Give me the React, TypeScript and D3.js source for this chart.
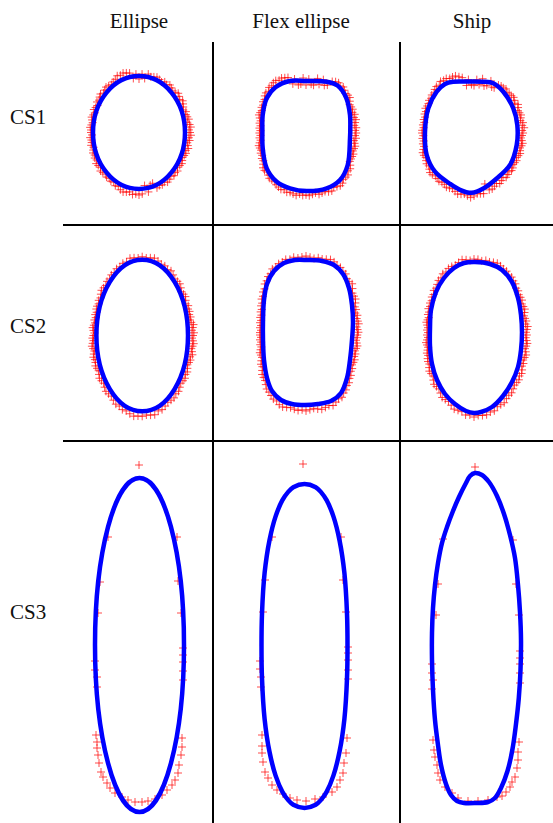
import React from 'react';
import * as d3 from 'd3';

// ---------- labels ----------
const COLUMNS = ['Ellipse', 'Flex ellipse', 'Ship'];
const ROWS = ['CS1', 'CS2', 'CS3'];

// ---------- fitted ellipses: [cx, cy, rx, ry] (section units, y up) ----------
const ELLIPSE_CS1 = [-1, 0.5, 46, 56.5];
const ELLIPSE_CS2 = [2.2, -0.5, 45.8, 75.8];
const ELLIPSE_CS3 = [-0.5, 0, 44.5, 167];

// ---------- fitted flex-ellipse outlines ----------
const FLEX_CS1: [number, number][] = [
  [0, 52], [20.7, 51.3], [31.5, 47.5], [40.2, 35.2], [44, 18], [44.3, 6], [44, -5.3], [41.7, -32],
  [34, -47], [20.7, -55.3], [0.7, -58], [-16, -55.3], [-29.3, -48.7], [-39.3, -35.3], [-43.3, -15],
  [-43.6, 2], [-43.3, 18], [-39.3, 34.7], [-30.5, 45.8], [-16, 52],
];
const FLEX_CS2: [number, number][] = [
  [1, 75], [16, 74], [28, 70], [37, 61], [43, 47], [46, 30], [47, 13], [46, -5], [44, -25],
  [41, -43], [35, -58], [25, -66], [12, -69], [-1, -70], [-14, -69], [-25, -65], [-34, -56],
  [-39, -43], [-42, -25], [-43, -5], [-43, 15], [-42, 35], [-39, 51], [-32, 64], [-22, 72], [-11, 75],
];
const FLEX_CS3: [number, number][] = [
  [-1.5, 161], [9.7, 157.8], [15, 152.9], [20.6, 144.8], [27.4, 128.6], [33.6, 104.3], [38.4, 71.9],
  [41, 31.4], [41.5, -1], [41, -33.4], [38.4, -73.9], [33.6, -106.3], [27.4, -130.6], [20.6, -146.8],
  [15, -154.9], [9.7, -159.8], [-1.5, -163], [-12.7, -159.8], [-18, -154.9], [-23.6, -146.8],
  [-30.4, -130.6], [-36.6, -106.3], [-41.4, -73.9], [-44, -33.4], [-44.5, -1], [-44, 31.4],
  [-41.4, 71.9], [-36.6, 104.3], [-30.4, 128.6], [-23.6, 144.8], [-18, 152.9], [-12.7, 157.8],
];

// ---------- fitted ship outlines ----------
const SHIP_CS1: [number, number][] = [
  [-21, 51.3], [-6, 51.5], [9, 51.3], [19.3, 49.7], [29.3, 41.3], [39.3, 24.7], [43.3, 8],
  [42.7, -12], [36, -32], [22.7, -45.5], [9.3, -55.5], [-2.3, -59.8], [-14, -56.8], [-24, -50.8],
  [-39, -38.7], [-47.3, -22], [-49, 1.3], [-45.7, 24.7], [-37.3, 41.3], [-29, 49],
];
const SHIP_CS2: [number, number][] = [
  [1, 73], [16, 71], [28, 65], [38, 53], [44, 37], [47, 20], [48, 3], [47, -15], [44, -32],
  [38, -47], [29, -61], [18, -72], [7, -77], [0, -78], [-8, -76], [-19, -69], [-29, -59],
  [-37, -45], [-42, -29], [-44, -11], [-44, 7], [-43, 25], [-38, 43], [-30, 57], [-20, 67], [-10, 72],
];
const SHIP_CS3: [number, number][] = [
  [1, 172], [8, 170], [15, 163], [23, 149], [30, 131], [36, 110], [41, 87], [44, 60], [46, 33],
  [47, 5], [46.5, -25], [44.8, -53], [42, -79], [38.5, -104], [33.5, -126], [27, -143], [21, -153],
  [14, -157], [2, -158], [-10, -158], [-17, -156], [-23, -150], [-28, -139], [-33, -120],
  [-36, -100], [-39, -75], [-41, -45], [-42, -15], [-42, 12], [-41, 37], [-39, 60], [-36, 82],
  [-32, 102], [-27, 118], [-21, 134], [-15, 148], [-8, 162], [-4, 169],
];

// ---------- measured points, CS1 & CS2 (polar: angle deg, deviation from fit) ----------
const DENSE_ANGLES = [
  0, 3, 6, 9, 12, 15, 18, 21, 24, 27, 30, 33, 36, 39, 42, 45, 48, 51, 54, 57,
  60, 63, 66, 69, 72, 75, 78, 81, 84, 87, 90, 93, 96, 99, 102, 105, 108, 111, 114, 117,
  120, 123, 126, 129, 132, 135, 138, 141, 144, 147, 150, 153, 156, 159, 162, 165, 168, 171, 174, 177,
  180, 183, 186, 189, 192, 195, 198, 201, 204, 207, 210, 213, 216, 219, 222, 225, 228, 231, 234, 237,
  240, 243, 246, 249, 252, 255, 258, 261, 264, 267, 270, 273, 276, 279, 282, 285, 288, 291, 294, 297,
  300, 303, 306, 309, 312, 315, 318, 321, 324, 327, 330, 333, 336, 339, 342, 345, 348, 351, 354, 357,
];
const DEV_ELLIPSE_CS1 = [
  5, 4, 6, 5, 3, 5, 4, 3, 4, 2, 3, 4, 5, 3, 4, 5, 3, 2, 3, 4,
  2, 3, 1, 2, 3, 2, 1, 3, -2, 2, -3, 2, -2, 4, 5, 6, 5, 6, 4, 3,
  2, 3, 4, 3, 2, 4, 3, 2, 3, 1, 2, 3, 1, 2, 3, 2, 1, 2, 3, 2,
  2, 1, 3, 2, 2, 3, 1, 2, 3, 2, 3, 2, 4, 3, 2, 4, 3, 2, 3, 2,
  3, 2, 4, 3, 5, 6, 5, 4, 6, 5, 6, 5, -3, 4, -2, -3, 3, 2, 3, 2,
  4, 3, 2, 4, 3, 4, 2, 3, 4, 3, 2, 3, 4, 3, 5, 4, 3, 5, 4, 6,
];
const DEV_FLEX_CS1 = [
  6, 5, 6, 4, 5, 6, 4, 5, 3, 4, 3, 2, 3, 4, 3, 2, 3, 4, 2, 3,
  3, 2, -3, -4, 2, -3, 3, -4, -3, 2, -4, 3, -3, -4, 2, -3, 4, 5, 6, 5,
  6, 5, 4, 5, 3, 4, 3, 2, 3, 2, 3, 2, 3, 4, 3, 2, 3, 2, 3, 2,
  3, 2, 3, 2, 3, 4, 3, 2, 3, 2, 3, 2, 3, 4, 3, 2, 3, 4, 3, 2,
  3, 4, 5, 4, 5, 4, 5, 6, 4, 5, 4, 5, 4, 3, 5, 4, 3, 4, 5, 3,
  4, 5, 4, 3, 4, 5, 3, 4, 3, 2, 3, 4, 5, 4, 5, 6, 5, 4, 6, 5,
];
const DEV_SHIP_CS1 = [
  6, 5, 7, 5, 6, 4, 5, 6, 5, 4, 5, 6, 4, 5, 6, 5, 4, 3, 4, 3,
  3, 2, -3, -4, 2, -3, -4, 3, -3, 2, -4, -3, 2, -4, 4, 5, 6, 5, 4, 5,
  4, 5, 3, 4, 3, 2, 3, 2, 3, 2, 2, 3, 2, 3, 2, 3, 2, 3, 2, 3,
  3, 2, 3, 2, 3, 2, 3, 4, 3, 2, 3, 4, 3, 4, 5, 4, 3, 4, 5, 4,
  4, 5, 4, 3, 4, 5, 4, 3, 4, 5, 4, 3, 4, 5, -3, 5, 6, 5, 4, 6,
  5, 4, 6, 5, 4, 5, 4, 3, 4, 5, 4, 5, 6, 5, 4, 5, 6, 5, 4, 5,
];
const DEV_ELLIPSE_CS2 = [
  5, 6, 4, 5, 6, 4, 3, 4, 3, 4, 3, 4, 2, 3, 4, 3, 2, 3, 4, 3,
  2, 3, 4, 2, 3, 2, 3, 4, 3, 2, 3, 2, 3, 4, 2, 3, 2, 3, 2, 3,
  2, 3, 2, 3, 4, 3, 2, 3, 2, 3, 3, 2, 3, 2, 3, 2, 3, 4, 3, 2,
  3, 4, 3, 4, 5, 4, 3, 4, 5, 4, 4, 5, 4, 3, 4, 5, 4, 3, 4, 5,
  4, 3, 4, 5, 4, 5, 4, 5, 6, 5, 5, 4, 5, 6, 4, 5, 4, 3, 4, 5,
  4, 5, 4, 3, 4, 5, 4, 5, 4, 3, 4, 5, 4, 6, 5, 4, 5, 6, 5, 4,
];
const DEV_FLEX_CS2 = [
  5, 6, 5, 4, 6, 5, 4, 5, 3, 4, 3, 4, 5, 4, 3, 4, 5, 3, 2, 3,
  2, 3, 2, 3, 4, 3, 2, 3, 2, 3, 4, 3, 2, 3, 2, 3, 2, 3, 2, 3,
  2, 3, 2, 3, 2, 3, 2, 3, 2, 3, 2, 3, 2, 3, 2, 3, 2, 3, 2, 3,
  3, 2, 3, 2, 3, 2, 3, 4, 3, 2, 3, 4, 3, 4, 5, 4, 3, 4, 5, 4,
  4, 5, 4, 5, 6, 5, 4, 5, 6, 5, 6, 5, 4, 5, 6, 5, 4, 5, 4, 3,
  4, 3, 4, 3, 4, 3, 4, 3, 4, 3, 4, 5, 4, 5, 4, 5, 6, 5, 4, 5,
];
const DEV_SHIP_CS2 = [
  5, 4, 5, 6, 4, 5, 4, 3, 4, 5, 4, 3, 4, 3, 2, 3, 2, 3, 2, 3,
  2, 3, 2, 3, 4, 3, 2, 3, 2, 3, 3, 2, 3, 4, 3, 2, 3, 4, 3, 4,
  3, 4, 3, 2, 3, 2, 3, 2, 3, 2, 3, 2, 3, 2, 3, 4, 3, 2, 3, 2,
  3, 2, 3, 4, 3, 2, 3, 4, 3, 4, 4, 3, 4, 5, 4, 3, 4, 5, 4, 3,
  4, 5, 4, 3, 4, 5, 4, 3, 4, 3, 4, 3, 4, 5, 4, 5, 4, 5, 6, 5,
  5, 6, 5, 4, 5, 6, 5, 6, 5, 4, 5, 4, 5, 6, 5, 4, 5, 6, 5, 4,
];

// ---------- measured points, CS3 (x, y) ----------
const PTS_ELLIPSE_CS3: [number, number][] = [
  [-1, 180], [-32, 108], [37, 108], [-40, 63], [38, 64], [-42, 32], [41, 32],
  [-45, -16], [-45, -25], [-43, -32], [-43, -42],
  [43, -3], [43, -10], [43, -17], [43, -26], [43, -35],
  [-44, -90], [-43, -97], [-43, -103], [-42, -110], [-41, -118], [-39, -127], [-37, -132],
  [-33, -138], [-30, -143], [-25, -148], [-18, -152], [-12, -155], [-5, -157], [2, -157],
  [42, -93], [42, -102], [41, -110], [39, -120], [38, -128], [35, -135], [32, -140],
  [27, -145], [22, -150], [15, -154], [8, -156],
];
const PTS_FLEX_CS3: [number, number][] = [
  [-3, 181], [-34, 108], [35, 108], [-41, 65], [37, 65], [-43, 33], [40, 33],
  [-46, -16], [-46, -24], [-45, -32], [-45, -42],
  [42, -2], [42, -8], [42, -15], [42, -25], [42, -34],
  [-44, -90], [-44, -101], [-44, -108], [-43, -117], [-41, -127], [-38, -133], [-34, -140],
  [-29, -145], [-23, -149], [-16, -153], [-9, -155], [0, -156], [9, -154],
  [41, -93], [40, -108], [38, -118], [37, -128], [34, -135], [31, -142], [26, -147], [17, -152],
];
const PTS_SHIP_CS3: [number, number][] = [
  [1, 178], [-31, 106], [39, 105], [-36, 61], [42, 61], [-38, 30], [45, 30],
  [-42, -19], [-42, -28], [-41, -35], [-42, -44],
  [46, -6], [46, -13], [46, -19], [46, -28], [46, -38],
  [-41, -95], [-40, -105], [-39, -112], [-37, -120], [-36, -128], [-34, -135], [-29, -142],
  [-22, -148], [-16, -153], [-6, -156], [4, -156], [14, -155], [23, -152],
  [45, -97], [44, -107], [44, -115], [43, -123], [41, -132], [38, -137], [36, -142], [32, -147], [28, -151],
];

// ---------- layout ----------
const W = 553;
const H = 823;
const COL_ORIGIN = [140, 306, 474];
const ROW_ORIGIN = [133, 335, 645];
const HEADER_X = [139, 301, 472];
const HEADER_Y = 28;
const ROW_LABEL_X = 10;
const ROW_LABEL_Y = [124, 333, 619];
const V_LINES = [213, 400];
const H_LINES = [225, 441];
const FONT = '"Liberation Serif", "Times New Roman", Times, serif';

type Pt = [number, number];
type Fit = { kind: 'ellipse'; e: number[] } | { kind: 'poly'; p: Pt[] };
type Obs = { kind: 'dense'; dev: number[] } | { kind: 'pts'; p: Pt[] };

const CELLS: { fit: Fit; obs: Obs }[][] = [
  [
    { fit: { kind: 'ellipse', e: ELLIPSE_CS1 }, obs: { kind: 'dense', dev: DEV_ELLIPSE_CS1 } },
    { fit: { kind: 'poly', p: FLEX_CS1 }, obs: { kind: 'dense', dev: DEV_FLEX_CS1 } },
    { fit: { kind: 'poly', p: SHIP_CS1 }, obs: { kind: 'dense', dev: DEV_SHIP_CS1 } },
  ],
  [
    { fit: { kind: 'ellipse', e: ELLIPSE_CS2 }, obs: { kind: 'dense', dev: DEV_ELLIPSE_CS2 } },
    { fit: { kind: 'poly', p: FLEX_CS2 }, obs: { kind: 'dense', dev: DEV_FLEX_CS2 } },
    { fit: { kind: 'poly', p: SHIP_CS2 }, obs: { kind: 'dense', dev: DEV_SHIP_CS2 } },
  ],
  [
    { fit: { kind: 'ellipse', e: ELLIPSE_CS3 }, obs: { kind: 'pts', p: PTS_ELLIPSE_CS3 } },
    { fit: { kind: 'poly', p: FLEX_CS3 }, obs: { kind: 'pts', p: PTS_FLEX_CS3 } },
    { fit: { kind: 'poly', p: SHIP_CS3 }, obs: { kind: 'pts', p: PTS_SHIP_CS3 } },
  ],
];

// distance from origin to polygon along direction theta
function rayPoly(poly: Pt[], th: number): number {
  const dx = Math.cos(th);
  const dy = Math.sin(th);
  let best = Infinity;
  for (let i = 0; i < poly.length; i++) {
    const p = poly[i];
    const q = poly[(i + 1) % poly.length];
    const ex = q[0] - p[0];
    const ey = q[1] - p[1];
    const D = ex * dy - dx * ey;
    if (Math.abs(D) < 1e-9) continue;
    const t = (ex * p[1] - p[0] * ey) / D;
    const s = (dx * p[1] - dy * p[0]) / D;
    if (t > 0 && s >= -1e-6 && s <= 1 + 1e-6) best = Math.min(best, t);
  }
  return best;
}

function observed(fit: Fit, obs: Obs): Pt[] {
  if (obs.kind === 'pts') return obs.p;
  return DENSE_ANGLES.map((a, i) => {
    const th = (a * Math.PI) / 180;
    const c = Math.cos(th);
    const s = Math.sin(th);
    if (fit.kind === 'ellipse') {
      const [cx, cy, rx, ry] = fit.e;
      const r = 1 / Math.sqrt((c / rx) ** 2 + (s / ry) ** 2) + obs.dev[i];
      return [cx + r * c, cy + r * s] as Pt;
    }
    const r = rayPoly(fit.p, th) + obs.dev[i];
    return [r * c, r * s] as Pt;
  });
}

function Cell({ row, col }: { row: number; col: number }) {
  const ox = COL_ORIGIN[col];
  const oy = ROW_ORIGIN[row];
  const x = d3.scaleLinear().domain([-100, 100]).range([ox - 100, ox + 100]);
  const y = d3.scaleLinear().domain([-200, 200]).range([oy + 200, oy - 200]);
  const { fit, obs } = CELLS[row][col];
  const pts = observed(fit, obs);
  const h = 4;
  const plusPath = pts
    .map((d) => {
      const px = x(d[0]);
      const py = y(d[1]);
      return `M${px - h},${py}H${px + h}M${px},${py - h}V${py + h}`;
    })
    .join('');
  let fitEl: React.ReactNode;
  if (fit.kind === 'ellipse') {
    const [cx, cy, rx, ry] = fit.e;
    fitEl = (
      <ellipse
        cx={x(cx)}
        cy={y(cy)}
        rx={x(cx + rx) - x(cx)}
        ry={y(cy) - y(cy + ry)}
        fill="none"
        stroke="#0000ff"
        strokeWidth={4.5}
      />
    );
  } else {
    const line = d3
      .line<Pt>()
      .x((d) => x(d[0]))
      .y((d) => y(d[1]))
      .curve(d3.curveCatmullRomClosed.alpha(0.5));
    fitEl = <path d={line(fit.p) || ''} fill="none" stroke="#0000ff" strokeWidth={4.5} strokeLinejoin="round" />;
  }
  return (
    <g>
      <path d={plusPath} fill="none" stroke="#ff0000" strokeWidth={1} strokeOpacity={0.7} />
      {fitEl}
    </g>
  );
}

export default function App() {
  return (
    <div style={{ position: 'absolute', left: 0, top: 0 }}>
      <svg width={W} height={H} style={{ display: 'block', background: '#fff' }}>
        <rect x={0} y={0} width={W} height={H} fill="#fff" />
        {COLUMNS.map((c, i) => (
          <text key={c} x={HEADER_X[i]} y={HEADER_Y} textAnchor="middle" fontFamily={FONT} fontSize={21} fill="#111">
            {c}
          </text>
        ))}
        {ROWS.map((r, i) => (
          <text key={r} x={ROW_LABEL_X} y={ROW_LABEL_Y[i]} fontFamily={FONT} fontSize={21} fill="#111">
            {r}
          </text>
        ))}
        {V_LINES.map((vx) => (
          <line key={'v' + vx} x1={vx} x2={vx} y1={42} y2={H} stroke="#000" strokeWidth={2} />
        ))}
        {H_LINES.map((hy) => (
          <line key={'h' + hy} x1={63} x2={W} y1={hy} y2={hy} stroke="#000" strokeWidth={2} />
        ))}
        {ROWS.map((_, r) => COLUMNS.map((__, c) => <Cell key={r + '-' + c} row={r} col={c} />))}
      </svg>
    </div>
  );
}
